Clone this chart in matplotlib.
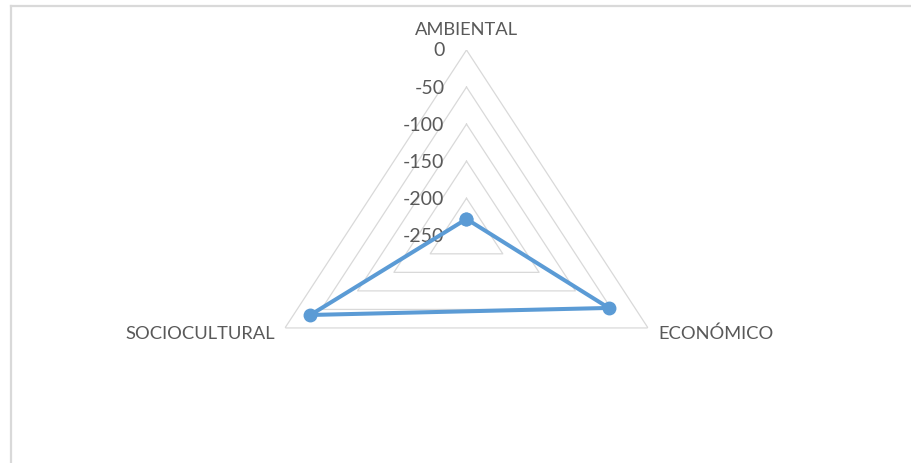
import numpy as np
import matplotlib
matplotlib.use("Agg")
import matplotlib.pyplot as plt
from matplotlib.lines import Line2D

categories = ["AMBIENTAL", "ECONÓMICO", "SOCIOCULTURAL"]
values = [-228, -54, -35]
r_ticks = [0, -50, -100, -150, -200, -250]
r_min, r_max = -250, 0

W, H = 911, 463
fig = plt.figure(figsize=(W / 100, H / 100), dpi=100)
fig.patch.set_facecolor("white")

# chart-area border (top and left visible)
border_col = "#d9d9d9"
fig.add_artist(Line2D([10.5 / W, 10.5 / W], [0, 1 - 6 / H], transform=fig.transFigure,
                      color=border_col, lw=1.6))
fig.add_artist(Line2D([10.5 / W, 1], [1 - 6 / H, 1 - 6 / H], transform=fig.transFigure,
                      color=border_col, lw=1.6))

cx, cy = 466.5, 235.3
rx, ry = 209.6, 185.3
ax = fig.add_axes([(cx - rx) / W, (H - cy - ry) / H, 2 * rx / W, 2 * ry / H],
                  projection="polar")
ax.set_aspect("auto")
ax.set_theta_offset(np.pi / 2)
ax.set_theta_direction(-1)
ax.set_ylim(r_min, r_max)
ax.grid(False)
ax.spines["polar"].set_visible(False)
ax.set_xticks([])
ax.set_yticks([])
ax.patch.set_alpha(0)

n = len(categories)
angles = np.linspace(0, 2 * np.pi, n, endpoint=False)
closed_angles = np.concatenate([angles, angles[:1]])

# triangular gridlines
for t in r_ticks:
    if t == r_min:
        continue
    ax.plot(closed_angles, [t] * (n + 1), color="#d9d9d9", lw=0.9, zorder=1)

# radial tick labels along the top axis
txt_col = "#595959"
font = ["Lato", "DejaVu Sans"]
for t in r_ticks:
    ax.annotate(str(t), xy=(0, t), xytext=(-22, -1),
                textcoords="offset pixels", ha="right", va="center",
                fontsize=14, color=txt_col, family=font, annotation_clip=False)

# category labels
offsets = [(0, 20, "center", "center"), (10, -6, "left", "center"), (-10, -6, "right", "center")]
for ang, lab, (dx, dy, ha, va) in zip(angles, categories, offsets):
    ax.annotate(lab, xy=(ang, r_max), xytext=(dx, dy), textcoords="offset pixels",
                ha=ha, va=va, fontsize=13.2, color=txt_col, family=font,
                annotation_clip=False)

vals_closed = values + values[:1]
ax.plot(closed_angles, vals_closed, color="#5B9BD5", lw=2.9, marker="o",
        markersize=9, zorder=3, clip_on=False)

fig.savefig("out.png", dpi=100)
